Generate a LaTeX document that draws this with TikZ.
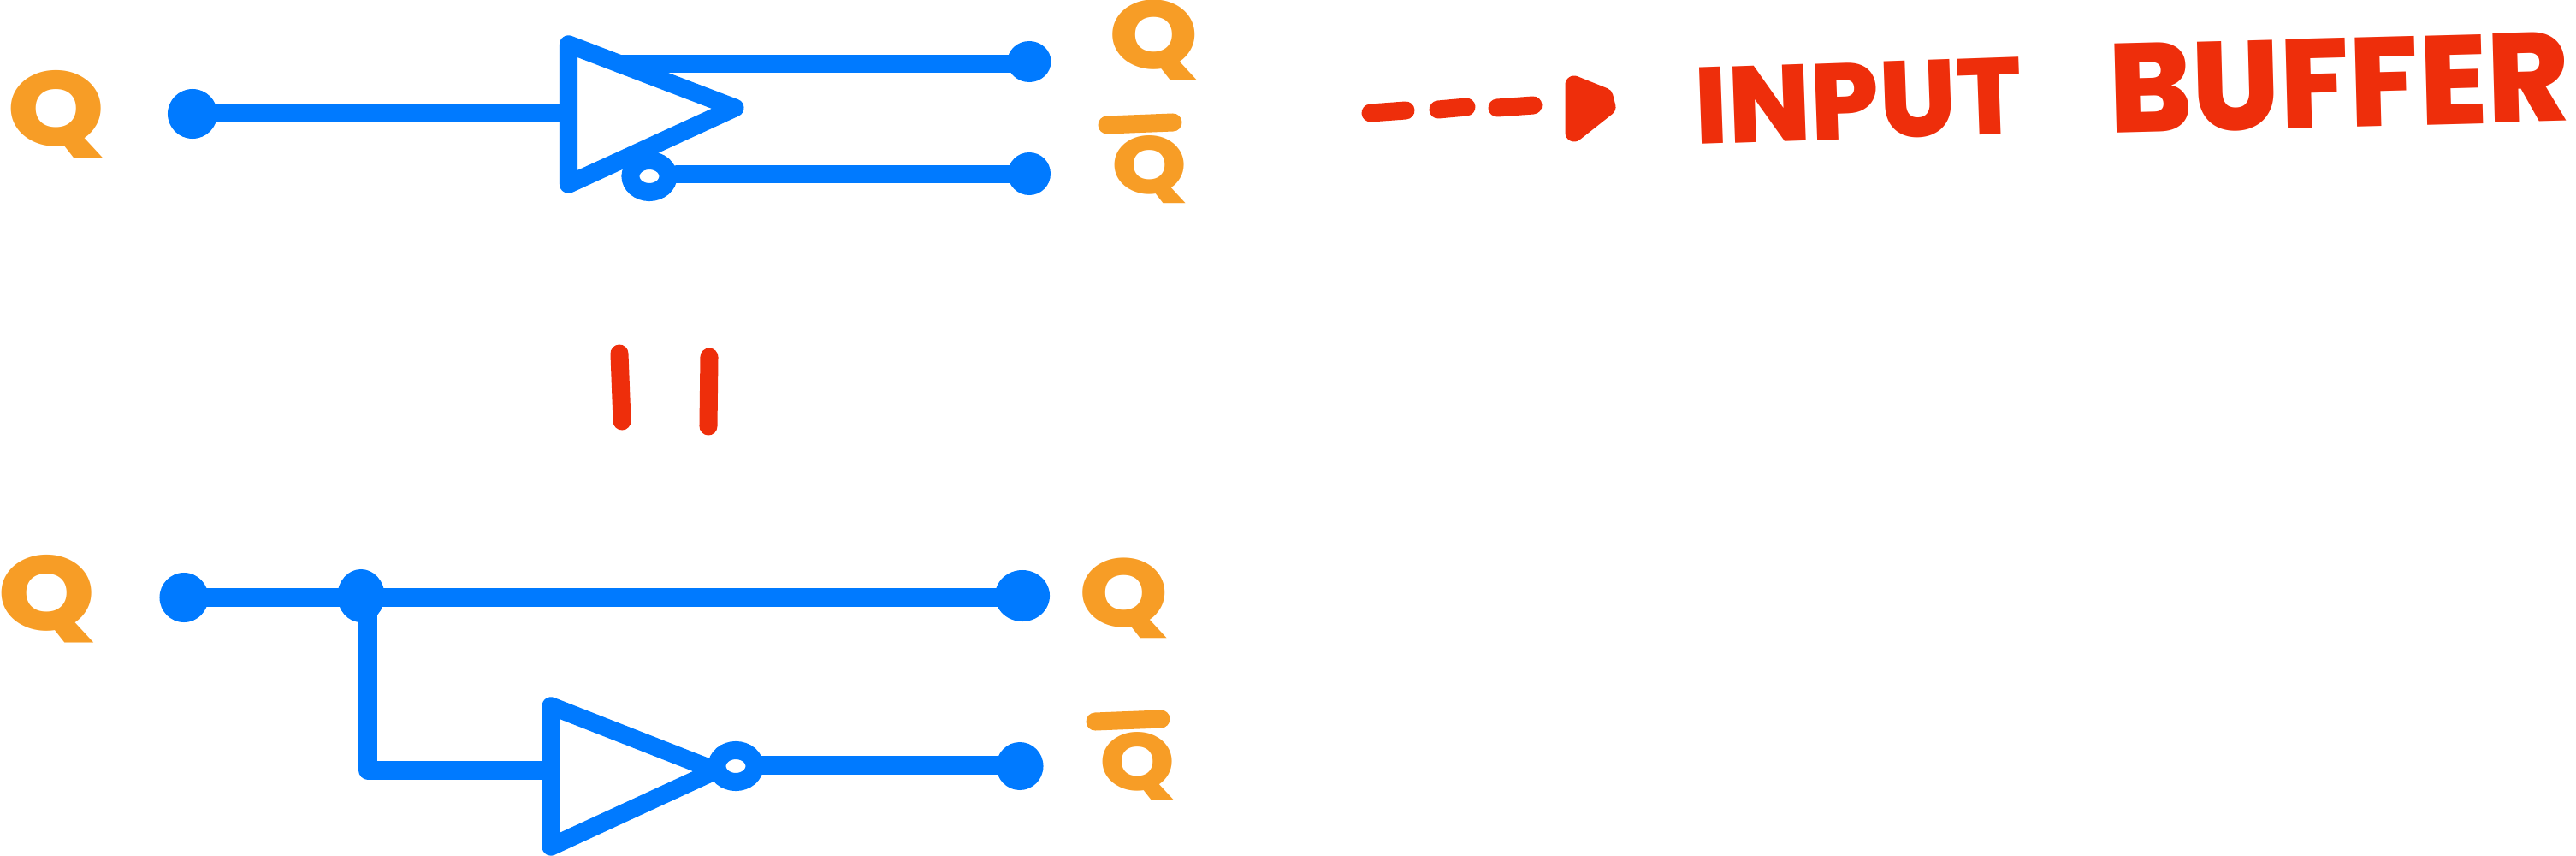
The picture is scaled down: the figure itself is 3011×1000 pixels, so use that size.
\documentclass[tikz,border=0pt]{standalone}
\usepackage{fontspec}
\usepackage{graphicx}
\usetikzlibrary{shapes.geometric}
\newfontfamily\handfont{Poppins}[BoldFont={Poppins ExtraBold}]
\newcommand{\handq}{\scalebox{1.18}[1]{Q}}
\definecolor{wireblue}{HTML}{007AFF}
\definecolor{labelorange}{HTML}{F79D26}
\definecolor{notered}{HTML}{EE2E0B}
\tikzset{
  x=0.01cm,y=-0.01cm,
  wire/.style={draw=wireblue,line width=5.98pt,line cap=round,line join=round},
  gate/.style={wire,fill=white},
  bar/.style={draw=labelorange,line width=5.98pt,line cap=round},
  note/.style={draw=notered,line width=5.98pt,line cap=round,line join=round},
  blob/.style={ellipse,fill=wireblue,draw=none,inner sep=0pt,minimum width=#1},
  bubble/.style={ellipse,draw=wireblue,line width=5.98pt,fill=white,inner sep=0pt,minimum width=0.44cm,minimum height=0.37cm},
  qlabel/.style={text=labelorange,inner sep=0pt,font=\handfont\bfseries\fontsize{32pt}{32pt}\selectfont},
  title/.style={text=notered,inner sep=0pt,font=\handfont\bfseries\fontsize{36pt}{36pt}\selectfont}
}
\begin{document}
\begin{tikzpicture}
\useasboundingbox (0,0) rectangle (3011,1000);
% upper drawing
\node[blob=0.58cm,minimum height=0.58cm] (inA) at (225,133) {};
\node[blob=0.51cm,minimum height=0.48cm] (outA) at (1203,72) {};
\node[blob=0.50cm,minimum height=0.50cm] (outAn) at (1203,203) {};
\coordinate (triAw) at (664.5,131.5);
\coordinate (triAt) at (664.5,51.8);
\coordinate (triAa) at (859,126);
\coordinate (triAb) at (664.5,215.3);
\coordinate (tapA) at (724,74.5);
\draw[wire] (inA.center |- triAw) -- (triAw);
\draw[gate] (triAt) -- (triAa) -- (triAb) -- cycle;
\draw[wire] (tapA) -- (outA.center |- tapA);
\node[bubble] (bubA) at (759,206) {};
\draw[wire] (bubA.center) ++(32,-2.5) coordinate (bubAe) -- (outAn.center |- bubAe);
\node[qlabel,font=\handfont\bfseries\fontsize{35pt}{35pt}\selectfont] (qA) at (66,134) {\handq};
\node[qlabel] (qB) at (1349,47) {\handq};
\node[qlabel,font=\handfont\bfseries\fontsize{27pt}{27pt}\selectfont] (qC) at (1344,198) {\handq};
\coordinate (barCa) at (1294,146);
\coordinate (barCb) at (1371,143);
\draw[bar] (barCa) -- (barCb);
% arrow and title
\coordinate (dashAa) at (1602,132);
\coordinate (dashAb) at (1643,129);
\coordinate (dashBa) at (1681,128);
\coordinate (dashBb) at (1714,125);
\coordinate (dashCa) at (1750,126);
\coordinate (dashCb) at (1792,123);
\draw[note] (dashAa) -- (dashAb) (dashBa) -- (dashBb) (dashCa) -- (dashCb);
\draw[note,fill=notered] (1840,99) -- (1875,113) -- (1878,125) -- (1840,155) -- cycle;
\node[title,rotate=2] (wordA) at (2172,118) {\scalebox{1.0}[1]{INPUT}};
\node[title,rotate=1.5,font=\handfont\bfseries\fontsize{42pt}{42pt}\selectfont] (wordB) at (2734,97) {\scalebox{0.98}[1]{BUFFER}};
% equivalence strokes
\coordinate (eqAa) at (724,413);
\coordinate (eqAb) at (727,492);
\coordinate (eqBa) at (829,417);
\coordinate (eqBb) at (828,498);
\draw[note] (eqAa) -- (eqAb);
\draw[note] (eqBa) -- (eqBb);
% lower drawing
\node[blob=0.57cm,minimum height=0.58cm] (inB) at (215,698) {};
\node[blob=0.55cm,minimum height=0.62cm] (jn) at (422,696) {};
\node[blob=0.64cm,minimum height=0.60cm] (outB) at (1195,696) {};
\node[blob=0.55cm,minimum height=0.56cm] (outBn) at (1192,895) {};
\coordinate (topB) at (215,698);
\coordinate (elbow) at (430,900);
\coordinate (triBw) at (644,900);
\coordinate (triBt) at (644,824.8);
\coordinate (triBa) at (836.7,900.2);
\coordinate (triBb) at (644,989.1);
\draw[wire] (topB) -- (outB.center |- topB);
\draw[wire] (elbow |- jn.center) -- (elbow) -- (triBw);
\draw[gate] (triBt) -- (triBa) -- (triBb) -- cycle;
\node[bubble] (bubB) at (860,895) {};
\coordinate (bubBe) at (890,894);
\draw[wire] (bubBe) -- (outBn.center |- bubBe);
\node[qlabel,font=\handfont\bfseries\fontsize{35pt}{35pt}\selectfont] (qD) at (55,700) {\handq};
\node[qlabel] (qE) at (1314,699) {\handq};
\node[qlabel,font=\handfont\bfseries\fontsize{27pt}{27pt}\selectfont] (qF) at (1330,895) {\handq};
\coordinate (barFa) at (1280,843);
\coordinate (barFb) at (1357,840);
\draw[bar] (barFa) -- (barFb);
\end{tikzpicture}
\end{document}
